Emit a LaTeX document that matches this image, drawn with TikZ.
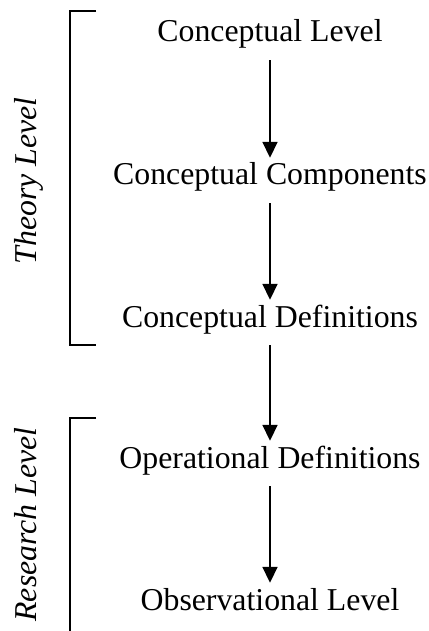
\documentclass[tikz,border=0pt]{standalone}
\usepackage{fontspec}
\setmainfont{Liberation Serif}
\usetikzlibrary{arrows.meta}
\tikzset{
  stage/.style={anchor=base, inner xsep=0pt, inner ysep=0pt,
    text height=22pt, text depth=7pt,
    font=\fontsize{31.8}{38}\selectfont},
  levellabel/.style={anchor=base, rotate=90, inner sep=0pt,
    font=\fontsize{31.8}{38}\selectfont\itshape},
  flow/.style={line width=1.8pt, -{Triangle[length=16pt,width=15pt]},
    shorten <=11pt, shorten >=5pt},
  bracket/.style={line width=1.6pt}
}
\begin{document}
\begin{tikzpicture}[x=1pt,y=-1pt]
  \useasboundingbox (0,0) rectangle (428,631);

  % stages of the chain
  \node[stage] (cl) at (270,42)  {Conceptual Level};
  \node[stage] (cc) at (270,185) {Conceptual Components};
  \node[stage] (cd) at (270,327) {Conceptual Definitions};
  \node[stage] (od) at (270,468) {Operational Definitions};
  \node[stage] (ol) at (270,610) {Observational Level};

  \draw[flow] (cl) -- (cc);
  \draw[flow] (cc) -- (cd);
  \draw[flow] (cd) -- (od);
  \draw[flow] (od) -- (ol);

  % brackets grouping the stages
  \coordinate (t1) at (96,11);
  \coordinate (t2) at (96,345);
  \coordinate (r1) at (96,418);
  \coordinate (r2) at (70,632);
  \draw[bracket] (t1) -- (70,11) -- (70,345) -- (t2);
  \draw[bracket] (r1) -- (70,418) -- (r2);

  % level labels
  \node[levellabel] (theory) at (36,181) {Theory Level};
  \node[levellabel] (research) at (36,524.5) {Research Level};
\end{tikzpicture}
\end{document}
